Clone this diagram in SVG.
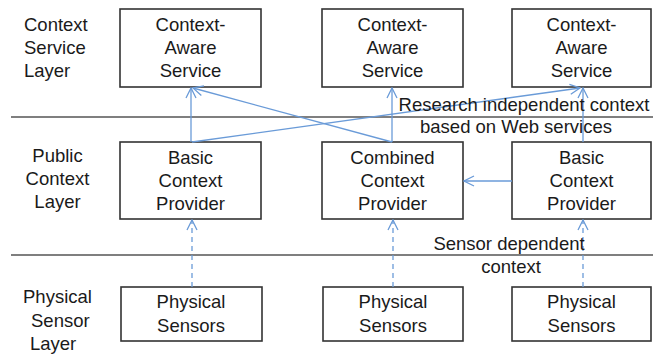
<svg xmlns="http://www.w3.org/2000/svg" width="653" height="359" viewBox="0 0 653 359">
<defs>
<style>
.box{fill:#fff;stroke:#333;stroke-width:1.6}
.t{font-family:"Liberation Sans",Arial,sans-serif;font-size:18.5px;fill:#1a1a1a}
.c{text-anchor:middle}
.sep{stroke:#555;stroke-width:1.6}
.ar{stroke:#6a9bd8;stroke-width:1.3;fill:none;marker-end:url(#ah)}
.da{stroke-dasharray:5,4}
</style>
<marker id="ah" viewBox="0 0 12 12" refX="11" refY="6" markerWidth="12" markerHeight="12" markerUnits="userSpaceOnUse" orient="auto">
<path d="M1,1 L11,6 L1,11" fill="none" stroke="#6a9bd8" stroke-width="1.3"/>
</marker>
</defs>
<rect width="653" height="359" fill="#fff"/>
<g id="separators">
<line class="sep" x1="11" y1="117" x2="653" y2="117"/>
<line class="sep" x1="11" y1="255" x2="653" y2="255"/>
</g>
<g id="layer-labels">
<text class="t" x="24" y="31">Context</text>
<text class="t" x="24" y="54">Service</text>
<text class="t" x="24" y="77">Layer</text>
<text class="t c" x="57.5" y="162">Public</text>
<text class="t c" x="57.5" y="185">Context</text>
<text class="t c" x="57.5" y="208">Layer</text>
<text class="t" x="23" y="303">Physical</text>
<text class="t" x="31" y="327">Sensor</text>
<text class="t" x="30" y="350">Layer</text>
</g>
<g id="service1"><rect class="box" x="120" y="9" width="141" height="78"/>
<text class="t c" x="190.5" y="31">Context-</text><text class="t c" x="190.5" y="54">Aware</text><text class="t c" x="190.5" y="77">Service</text></g>
<g id="service2"><rect class="box" x="322" y="9" width="141" height="78"/>
<text class="t c" x="392.5" y="31">Context-</text><text class="t c" x="392.5" y="54">Aware</text><text class="t c" x="392.5" y="77">Service</text></g>
<g id="service3"><rect class="box" x="512" y="9" width="139" height="78"/>
<text class="t c" x="581.5" y="31">Context-</text><text class="t c" x="581.5" y="54">Aware</text><text class="t c" x="581.5" y="77">Service</text></g>
<g id="provider1"><rect class="box" x="120" y="142" width="141" height="77"/>
<text class="t c" x="190.5" y="164">Basic</text><text class="t c" x="190.5" y="187">Context</text><text class="t c" x="190.5" y="210">Provider</text></g>
<g id="provider2"><rect class="box" x="322" y="142" width="141" height="77"/>
<text class="t c" x="392.5" y="164">Combined</text><text class="t c" x="392.5" y="187">Context</text><text class="t c" x="392.5" y="210">Provider</text></g>
<g id="provider3"><rect class="box" x="512" y="142" width="139" height="77"/>
<text class="t c" x="581.5" y="164">Basic</text><text class="t c" x="581.5" y="187">Context</text><text class="t c" x="581.5" y="210">Provider</text></g>
<g id="sensors1"><rect class="box" x="121" y="287" width="141" height="54"/>
<text class="t c" x="191" y="308">Physical</text><text class="t c" x="191" y="332">Sensors</text></g>
<g id="sensors2"><rect class="box" x="323" y="287" width="140" height="54"/>
<text class="t c" x="393" y="308">Physical</text><text class="t c" x="393" y="332">Sensors</text></g>
<g id="sensors3"><rect class="box" x="512" y="287" width="139" height="54"/>
<text class="t c" x="581.5" y="308">Physical</text><text class="t c" x="581.5" y="332">Sensors</text></g>
<g id="connectors">
<line class="ar" x1="191" y1="142" x2="191" y2="88"/>
<line class="ar" x1="392" y1="142" x2="193" y2="88"/>
<line class="ar" x1="192" y1="142" x2="580" y2="88"/>
<line class="ar" x1="392" y1="142" x2="392" y2="88"/>
<line class="ar" x1="583" y1="142" x2="583" y2="88"/>
<line class="ar" x1="512" y1="181" x2="464" y2="181"/>
<line class="ar da" x1="192" y1="287" x2="192" y2="220"/>
<line class="ar da" x1="393" y1="287" x2="393" y2="220"/>
<line class="ar da" x1="583" y1="287" x2="583" y2="220"/>
</g>
<g id="labels">
<text class="t c" x="524" y="111">Research independent context</text>
<text class="t c" x="516" y="133">based on Web services</text>
<text class="t c" x="509" y="250">Sensor dependent</text>
<text class="t c" x="511" y="273">context</text>
</g>
</svg>
